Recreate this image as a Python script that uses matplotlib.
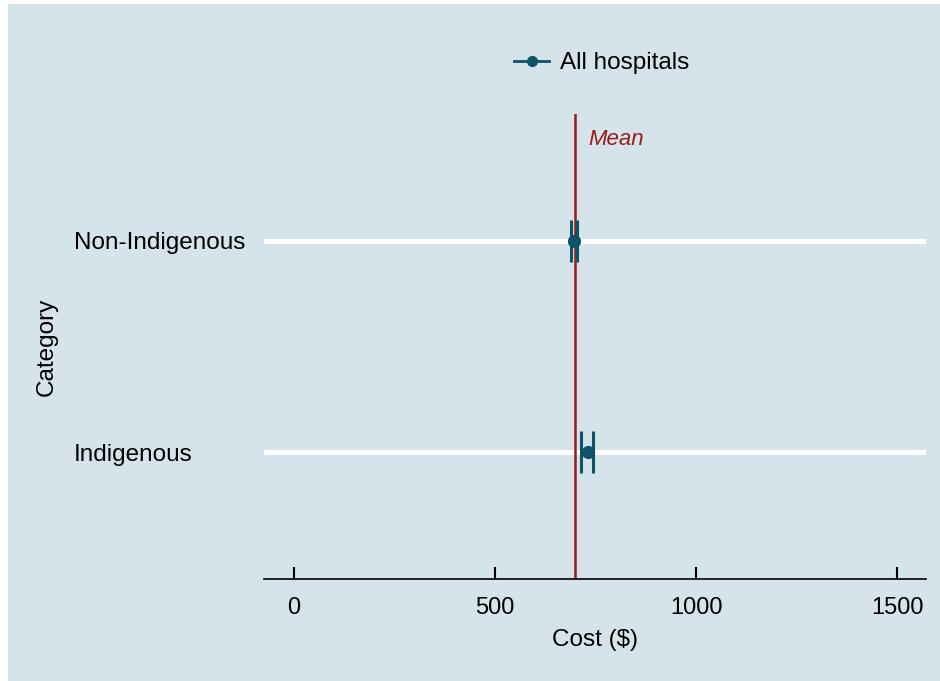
import matplotlib
matplotlib.use('Agg')
import matplotlib.pyplot as plt
from matplotlib.lines import Line2D
from matplotlib.patches import Rectangle

categories = ['Indigenous', 'Non-Indigenous']
cost_mean = [731, 697]
ci_low = [714, 688]
ci_high = [744, 704]
overall_mean = 699
x_ticks = [0, 500, 1000, 1500]

bg = '#d5e3ea'
teal = '#0e5368'
red = '#9b1b1b'

plt.rcParams['font.family'] = ['Liberation Sans', 'DejaVu Sans']

fig = plt.figure(figsize=(9.4, 6.81), dpi=100, facecolor='white')
fig.patches.append(Rectangle((8 / 940, 0), 1, 1 - 4 / 681, transform=fig.transFigure,
                             facecolor=bg, edgecolor='none', zorder=-1))
ax = fig.add_axes([264 / 940, 1 - 579 / 681, (926 - 264) / 940, (579 - 114) / 681])
ax.set_facecolor(bg)

y = [1, 2]
for yi in y:
    ax.axhline(yi, color='white', lw=3.5, zorder=1)

ax.axvline(overall_mean, color=red, lw=1.8, zorder=2)
ax.text(overall_mean + 32, 2.48, 'Mean', color=red, style='italic', fontsize=16,
        va='center', ha='left')

err = [[m - lo for m, lo in zip(cost_mean, ci_low)],
       [hi - m for m, hi in zip(cost_mean, ci_high)]]
ax.errorbar(cost_mean, y, xerr=err, fmt='o', color=teal, ms=8.5, elinewidth=2,
            capsize=15, capthick=2.2, zorder=3)

ax.set_xlim(-75, 1572)
ax.set_ylim(0.4, 2.6)
ax.set_xticks(x_ticks)
ax.set_yticks(y)
ax.set_yticklabels(categories)
ax.tick_params(axis='x', length=8.5, width=1.5, labelsize=17, pad=13, direction='in')
ax.tick_params(axis='y', length=0, labelsize=17.5, pad=0)
for lab in ax.get_yticklabels():
    lab.set_horizontalalignment('left')
    lab.set_x(-0.287)
for s in ['top', 'right', 'left']:
    ax.spines[s].set_visible(False)
ax.spines['bottom'].set_linewidth(1.2)

ax.set_xlabel('Cost ($)', fontsize=17.5, labelpad=7)
ax.set_ylabel('Category', fontsize=17.5, va='center')
ax.yaxis.set_label_coords((47 - 264) / 662, 0.5)

handle = Line2D([], [], color=teal, marker='o', ms=7, lw=2)
fig.legend([handle], ['All hospitals'], loc='center', bbox_to_anchor=(0.64, 1 - 63 / 681),
           frameon=False, fontsize=17.5, handlelength=1.45, handletextpad=0.45)

fig.savefig('out.png', dpi=100)
